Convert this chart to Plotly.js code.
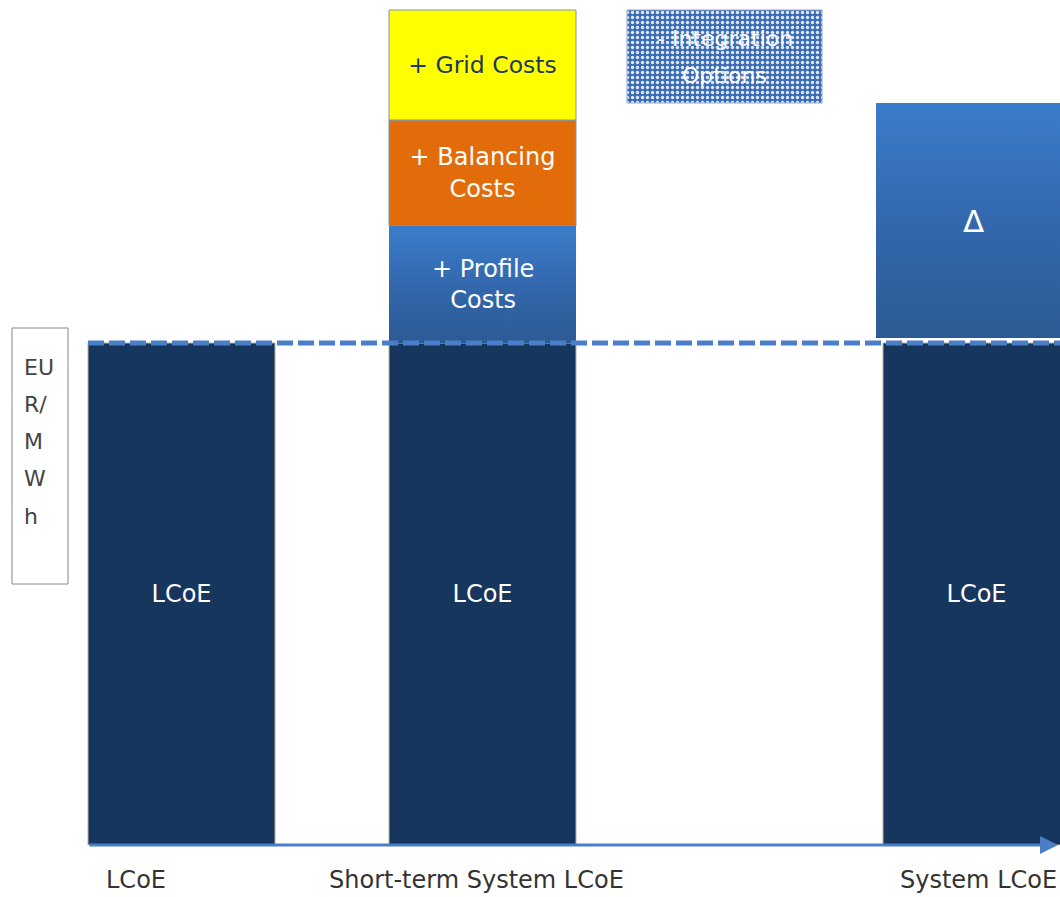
<!DOCTYPE html>
<html>
<head>
<meta charset="utf-8">
<script src="https://cdn.plot.ly/plotly-3.0.1.min.js"></script>
<style>html,body{margin:0;padding:0;background:#fff;}#chart{width:1060px;height:897px;}</style>
</head>
<body>
<div id="chart"></div>
<script>
// ---- data ----
const categories = ['LCoE', 'Short-term System LCoE', 'System LCoE'];
const lcoe = [50.2, 50.2, 50.2];
const profileCosts = 11.7;
const balancingCosts = 10.6;
const gridCosts = 11.0;
const integrationOptions = 9.3;
const deltaGap = 0.5;
const barLabels = ['LCoE', 'LCoE', 'LCoE'];
const ioLabelLines = ['- Integration', 'Options'];
const yLabelLines = ['EU', 'R/', 'M', 'W', 'h'];

// ---- layout helpers (positions, not data) ----
const barCenters = [1.815, 4.825, 9.765];
const barWidth = 1.87;
const ioCenter = 7.245, ioWidth = 1.95;
const deltaCenter = 9.73, deltaWidth = 1.94;
const tickX = [1.36, 4.76, 9.78];

const FONT = 'DejaVu Sans, Verdana, sans-serif';
const navy = '#17365d';

const shortTotal = lcoe[1] + profileCosts + balancingCosts + gridCosts;
const ioBase = shortTotal - integrationOptions;
const deltaBase = lcoe[2] + deltaGap;
const delta = ioBase - deltaBase;

function gradRect(xc, w, y0, y1, bottom, top) {
  return {
    type: 'scatter', mode: 'lines',
    x: [xc - w / 2, xc + w / 2, xc + w / 2, xc - w / 2, xc - w / 2],
    y: [y0, y0, y1, y1, y0],
    fill: 'toself',
    fillcolor: top,
    fillgradient: {type: 'vertical', colorscale: [[0, bottom], [0.5, '#3368ad'], [1, top]]},
    line: {width: 0, color: 'rgba(0,0,0,0)'},
    hoverinfo: 'skip', showlegend: false
  };
}

const traces = [
  {
    type: 'bar', x: barCenters, y: lcoe, width: barWidth,
    marker: {color: navy, line: {color: '#b9b29c', width: 1}},
    text: barLabels, textposition: 'inside', insidetextanchor: 'middle',
    textfont: {family: FONT, size: 24, color: '#ffffff'}, constraintext: 'none',
    hoverinfo: 'skip', showlegend: false
  },
  gradRect(barCenters[1], barWidth, lcoe[1], lcoe[1] + profileCosts, '#2c5a94', '#3b7dcb'),
  {
    type: 'bar', x: [barCenters[1]], y: [balancingCosts], base: [lcoe[1] + profileCosts], width: barWidth,
    marker: {color: '#e36c0a', line: {color: '#7f97b8', width: 1}},
    text: ['+ Balancing<br>Costs'], textposition: 'inside', insidetextanchor: 'middle',
    textfont: {family: FONT, size: 24, color: '#ffffff'}, constraintext: 'none',
    hoverinfo: 'skip', showlegend: false
  },
  {
    type: 'bar', x: [barCenters[1]], y: [gridCosts], base: [lcoe[1] + profileCosts + balancingCosts], width: barWidth,
    marker: {color: '#ffff00', line: {color: '#7f97b8', width: 1}},
    text: ['+ Grid Costs'], textposition: 'inside', insidetextanchor: 'middle',
    textfont: {family: FONT, size: 23.5, color: '#1f3864'}, constraintext: 'none',
    hoverinfo: 'skip', showlegend: false
  },
  {
    type: 'bar', x: [ioCenter], y: [integrationOptions], base: [ioBase], width: ioWidth,
    marker: {color: '#3a6db5', line: {color: '#8fa8cc', width: 1},
      pattern: {shape: '.', fgcolor: '#ffffff', bgcolor: '#3a6db5', fgopacity: 0.85, size: 5, solidity: 0.35}},
    hoverinfo: 'skip', showlegend: false
  },
  gradRect(deltaCenter, deltaWidth, deltaBase, deltaBase + delta, '#2c5a94', '#3b7dcb')
];

const annotations = [
  {x: barCenters[1], y: lcoe[1] + profileCosts / 2, xref: 'x', yref: 'y', text: '+ Profile<br>Costs', showarrow: false,
   font: {family: FONT, size: 24, color: '#ffffff'}},
  {x: deltaCenter, y: deltaBase + delta / 2, xref: 'x', yref: 'y', text: 'Δ', showarrow: false,
   font: {family: FONT, size: 31, color: '#ffffff'}},
  // axis arrow
  {x: 10.58, y: 0, xref: 'x', yref: 'y', ax: 0.88, ay: 0, axref: 'x', ayref: 'y', text: '', showarrow: true,
   arrowhead: 2, arrowsize: 1.2, arrowwidth: 3, arrowcolor: '#4a7fc8'}
];
ioLabelLines.forEach((t, i) => {
  annotations.push({x: ioCenter, y: ioBase + integrationOptions / 2 + (i === 0 ? 1.85 : -1.85), xref: 'x', yref: 'y',
    text: t, showarrow: false, font: {family: FONT, size: 22, color: '#ffffff'}});
});
categories.forEach((c, i) => {
  annotations.push({x: tickX[i], y: -0.041, xref: 'x', yref: 'paper', text: c, showarrow: false,
    yanchor: 'middle', font: {family: FONT, size: 24, color: '#333333'}});
});
const lineY = [47.8, 44.1, 40.4, 36.7, 32.9];
yLabelLines.forEach((t, i) => {
  annotations.push({x: 0.22, y: lineY[i], xref: 'x', yref: 'y', xanchor: 'left', text: t, showarrow: false,
    font: {family: FONT, size: 22, color: '#444444'}});
});

const shapes = [
  {type: 'rect', xref: 'x', yref: 'y', x0: 0.12, x1: 0.68, y0: 26.1, y1: 51.7,
   line: {color: '#888888', width: 1}, fillcolor: '#ffffff', layer: 'above'},
  {type: 'line', xref: 'x', yref: 'y', x0: 0.88, x1: 10.6, y0: lcoe[0], y1: lcoe[0],
   line: {color: '#4a7fc8', width: 5, dash: '16px,5px'}, layer: 'above'},
  {type: 'line', xref: 'x', yref: 'y', x0: 0.88, x1: 10.5, y0: -0.35, y1: -0.35,
   line: {color: '#aaaaaa', width: 1, dash: 'dot'}, layer: 'above'}
];

const layout = {
  width: 1060, height: 897,
  margin: {l: 0, r: 0, t: 0, b: 52, pad: 0},
  paper_bgcolor: '#ffffff', plot_bgcolor: '#ffffff',
  barmode: 'overlay',
  xaxis: {range: [0, 10.6], visible: false, fixedrange: true},
  yaxis: {range: [0, 84.5], visible: false, fixedrange: true},
  showlegend: false,
  annotations: annotations,
  shapes: shapes
};

Plotly.newPlot('chart', traces, layout, {displayModeBar: false, staticPlot: true});
</script>
</body>
</html>
